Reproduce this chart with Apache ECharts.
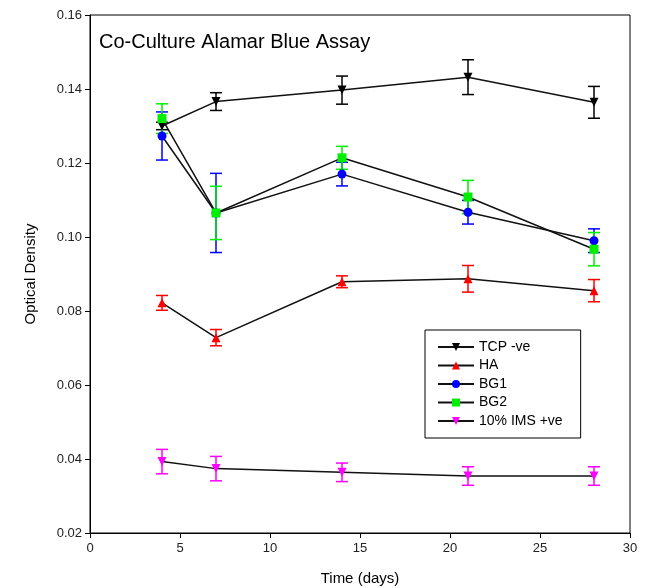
<!doctype html>
<html>
<head>
    <meta charset="utf-8">
    <title>Co-Culture Alamar Blue Assay</title>
    <script src="https://cdn.jsdelivr.net/npm/echarts@6/dist/echarts.min.js"></script>
</head>
<body style="margin:0">
    <div id="main" style="width:648px;height:588px;"></div>
    <script type="text/javascript">
        var days = [4, 7, 14, 21, 28];
        var seriesNames = ['TCP -ve', 'HA', 'BG1', 'BG2', '10% IMS +ve'];
        var tcp = [0.1300, 0.1366, 0.1397, 0.1432, 0.1364];
        var tcpErr = [0.0010, 0.0024, 0.0038, 0.0047, 0.0043];
        var ha = [0.0822, 0.0728, 0.0879, 0.0887, 0.0855];
        var haErr = [0.0020, 0.0022, 0.0016, 0.0036, 0.0030];
        var bg1 = [0.1273, 0.1065, 0.1170, 0.1067, 0.0990];
        var bg1Err = [0.0065, 0.0107, 0.0032, 0.0032, 0.0032];
        var bg2 = [0.1320, 0.1065, 0.1214, 0.1108, 0.0967];
        var bg2Err = [0.0040, 0.0072, 0.0031, 0.0045, 0.0045];
        var ims = [0.0393, 0.0374, 0.0364, 0.0354, 0.0354];
        var imsErr = [0.0033, 0.0033, 0.0025, 0.0025, 0.0025];

        var font = 'Liberation Sans, Arial, sans-serif';
        var chart = echarts.init(document.getElementById('main'));

        function pairs(vals) {
            return days.map(function (d, i) { return [d, vals[i]]; });
        }
        function triples(vals, errs) {
            return days.map(function (d, i) { return [d, vals[i], errs[i]]; });
        }

        // error bars drawn through the axes
        function errorSeries(id, vals, errs, color) {
            return {
                type: 'custom',
                name: id,
                z: 1,
                silent: true,
                renderItem: function (params, api) {
                    var x = api.value(0), y = api.value(1), e = api.value(2);
                    var top = api.coord([x, y + e]);
                    var bot = api.coord([x, y - e]);
                    var cap = 6;
                    var st = { stroke: color, lineWidth: 1.5 };
                    return {
                        type: 'group',
                        children: [
                            { type: 'line', shape: { x1: top[0], y1: top[1], x2: bot[0], y2: bot[1] }, style: st },
                            { type: 'line', shape: { x1: top[0] - cap, y1: top[1], x2: top[0] + cap, y2: top[1] }, style: st },
                            { type: 'line', shape: { x1: bot[0] - cap, y1: bot[1], x2: bot[0] + cap, y2: bot[1] }, style: st }
                        ]
                    };
                },
                encode: { x: 0, y: 1 },
                data: triples(vals, errs)
            };
        }

        function lineSeries(name, vals, color, symbol, rotate) {
            return {
                type: 'line',
                name: name,
                z: 3,
                symbol: symbol,
                symbolSize: 9,
                symbolRotate: rotate || 0,
                showAllSymbol: true,
                lineStyle: { color: '#111', width: 1.5 },
                itemStyle: { color: color, borderWidth: 0 },
                data: pairs(vals)
            };
        }

        var option = {
            animation: false,
            backgroundColor: '#fff',
            grid: {
                left: 90, right: 18, top: 15, bottom: 55,
                outerBoundsMode: 'none',
                show: true, borderColor: '#000', borderWidth: 1
            },
            title: {
                text: 'Co-Culture Alamar Blue Assay',
                left: 94, top: 27,
                textStyle: { fontFamily: font, fontSize: 20, fontWeight: 'normal', color: '#000' }
            },
            legend: {
                data: seriesNames,
                orient: 'vertical',
                left: 425, top: 330,
                padding: [10, 18, 10, 12],
                itemGap: 4.5,
                itemWidth: 36,
                itemHeight: 10,
                borderColor: '#000',
                borderWidth: 1,
                textStyle: { fontFamily: font, fontSize: 14, color: '#000' }
            },
            xAxis: {
                type: 'value',
                min: 0, max: 30, interval: 5,
                name: 'Time (days)',
                nameLocation: 'middle',
                nameGap: 38,
                nameTextStyle: { fontFamily: font, fontSize: 15, color: '#000' },
                axisLine: { lineStyle: { color: '#000', width: 1 } },
                axisTick: { show: true, length: 5, lineStyle: { color: '#000' } },
                axisLabel: { fontFamily: font, fontSize: 13, color: '#222', margin: 9 },
                splitLine: { show: false }
            },
            yAxis: {
                type: 'value',
                min: 0.02, max: 0.16, interval: 0.02,
                name: 'Optical Density',
                nameLocation: 'middle',
                nameGap: 52,
                nameTextStyle: { fontFamily: font, fontSize: 15, color: '#000' },
                axisLine: { show: true, lineStyle: { color: '#000', width: 1 } },
                axisTick: { show: true, length: 5, lineStyle: { color: '#000' } },
                axisLabel: {
                    fontFamily: font, fontSize: 13, color: '#222', margin: 8,
                    formatter: function (v) { return v.toFixed(2); }
                },
                splitLine: { show: false }
            },
            series: [
                errorSeries('tcpErr', tcp, tcpErr, '#000'),
                errorSeries('haErr', ha, haErr, '#ff0000'),
                errorSeries('bg1Err', bg1, bg1Err, '#0000ff'),
                errorSeries('bg2Err', bg2, bg2Err, '#00ee00'),
                errorSeries('imsErr', ims, imsErr, '#ff00ff'),
                lineSeries('TCP -ve', tcp, '#000', 'triangle', 180),
                lineSeries('HA', ha, '#ff0000', 'triangle', 0),
                lineSeries('BG1', bg1, '#0000ff', 'circle', 0),
                lineSeries('BG2', bg2, '#00ee00', 'rect', 0),
                lineSeries('10% IMS +ve', ims, '#ff00ff', 'triangle', 180)
            ]
        };

        chart.setOption(option);
    </script>
</body>
</html>
